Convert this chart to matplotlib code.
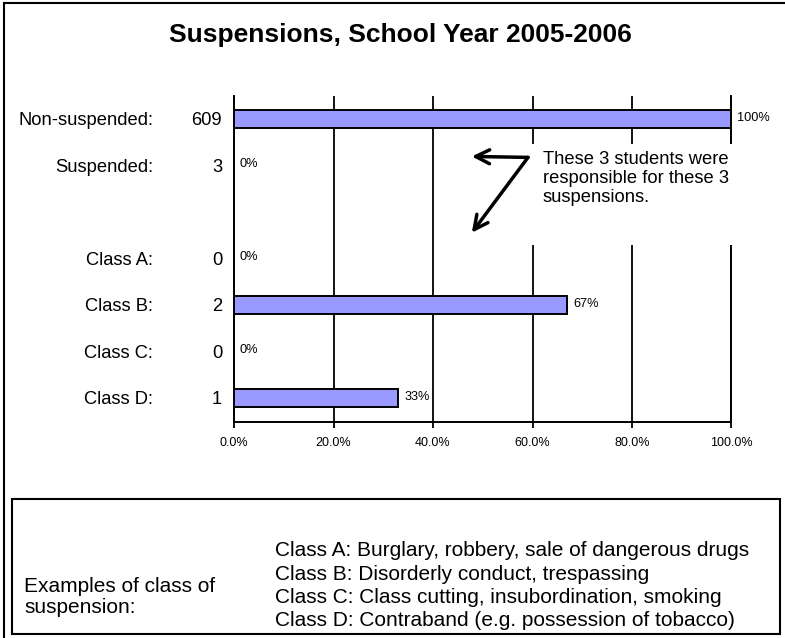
import numpy as np
import matplotlib
matplotlib.use('Agg')
import matplotlib.pyplot as plt
from matplotlib.patches import Rectangle
from matplotlib.lines import Line2D

plt.rcParams['font.family'] = ['Liberation Sans', 'DejaVu Sans']

# Datos de suspensiones
categorias = ['Non-suspended:', 'Suspended:', 'Class A:', 'Class B:', 'Class C:', 'Class D:']
filas = [0, 1, 3, 4, 5, 6]          # fila 2 queda vacía
cantidades = [609, 3, 0, 2, 0, 1]
porcentajes = [100, 0, 0, 67, 0, 33]
ticks_x = [0, 20, 40, 60, 80, 100]

titulo = 'Suspensions, School Year 2005-2006'
nota = 'These 3 students were\nresponsible for these 3\nsuspensions.'
clases = ['Class A: Burglary, robbery, sale of dangerous drugs',
          'Class B: Disorderly conduct, trespassing',
          'Class C: Class cutting, insubordination, smoking',
          'Class D: Contraband (e.g. possession of tobacco)']

W, H = 785, 638
fig = plt.figure(figsize=(W / 100, H / 100), dpi=100)
ax = fig.add_axes([234 / W, (H - 421.5) / H, 497.5 / W, 325.5 / H])

ax.barh(filas, porcentajes, height=0.39, color='#9999FF',
        edgecolor='black', linewidth=1.4, zorder=3)

ax.set_xlim(0, 100)
ax.set_ylim(6.5, -0.5)
ax.set_xticks(ticks_x)
ax.set_xticklabels([f'{v:.1f}%' for v in ticks_x])
ax.set_yticks([])
ax.xaxis.grid(True, color='black', linewidth=1.3)
ax.set_axisbelow(True)
ax.tick_params(axis='x', length=4, width=1.3, pad=7, labelsize=9, direction='out')
ax.spines['top'].set_visible(False)
for lado in ['left', 'bottom', 'right']:
    ax.spines[lado].set_linewidth(1.4)

# Etiquetas de categoria y cantidad a la izquierda
for y, cat, n in zip(filas, categorias, cantidades):
    ax.text(-0.1628, y + 0.03, cat, transform=ax.get_yaxis_transform(),
            ha='right', va='center', fontsize=13.2)
    ax.text(-0.024, y + 0.03, str(n), transform=ax.get_yaxis_transform(),
            ha='right', va='center', fontsize=13.2)

# Porcentaje al final de cada barra
for y, p in zip(filas, porcentajes):
    ax.text(p + 1.2, y - 0.03, f'{p}%', ha='left', va='center', fontsize=9.2, zorder=6)

# Nota con flechas
ax.add_patch(Rectangle((57.5, 0.54), 45.2, 2.16, facecolor='white',
                       edgecolor='none', zorder=4, clip_on=False))
ax.text(62.1, 0.69, nota, ha='left', va='top', fontsize=13.2,
        linespacing=1.15, zorder=5)
for fin in [(47.8, 0.80), (47.8, 2.44)]:
    ax.annotate('', xy=fin, xytext=(59.1, 0.82),
                arrowprops=dict(arrowstyle='->,head_length=0.5,head_width=0.25',
                                lw=2.5, color='black',
                                shrinkA=0, shrinkB=0, mutation_scale=20),
                annotation_clip=False, zorder=5)

# Titulo
fig.text(400 / W, 1 - 35 / H, titulo, ha='center', va='center',
         fontsize=19, fontweight='bold')

# Borde exterior
fig.add_artist(Line2D([4 / W, 1], [1 - 3 / H, 1 - 3 / H], color='black', lw=1.5))
fig.add_artist(Line2D([4 / W, 4 / W], [0, 1 - 3 / H], color='black', lw=1.5))

# Recuadro inferior con ejemplos
fig.add_artist(Rectangle((12 / W, 4 / H), 768 / W, 135 / H, fill=False,
                         edgecolor='black', lw=1.5, transform=fig.transFigure))
fig.text(24 / W, 1 - 597 / H, 'Examples of class of\nsuspension:',
         ha='left', va='center', fontsize=15, linespacing=1.15)
for i, s in enumerate(clases):
    fig.text(275 / W, 1 - (551 + i * 23.3) / H, s, ha='left', va='center', fontsize=15)

fig.savefig('out.png', dpi=100)
